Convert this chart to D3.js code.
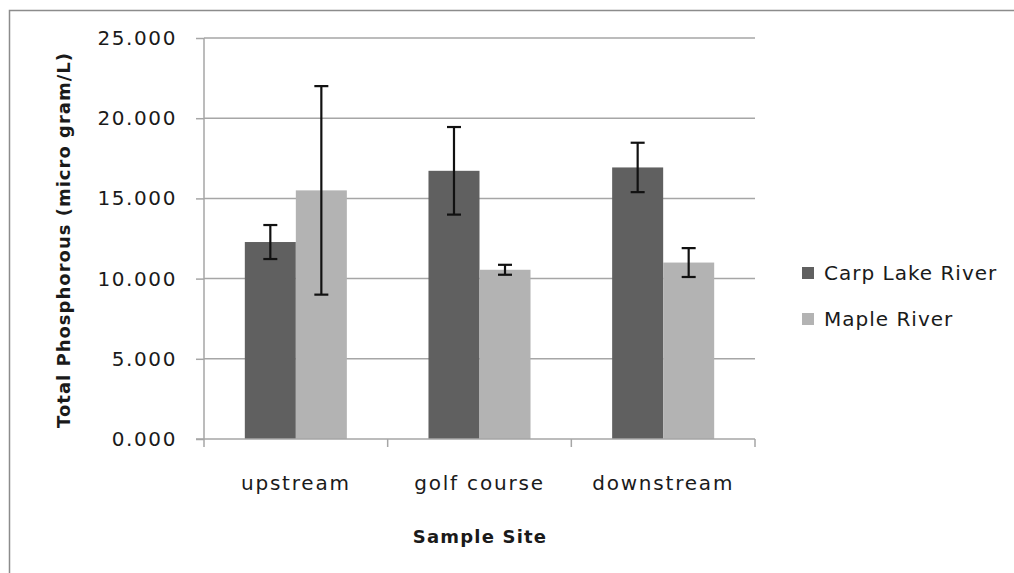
<!DOCTYPE html>
<html><head><meta charset="utf-8">
<script src="https://cdn.jsdelivr.net/npm/d3@7"></script>
<style>
html,body{margin:0;padding:0;background:#fff;}
svg{display:block;}
text{font-family:"DejaVu Sans",sans-serif;fill:#1a1a1a;}
</style></head>
<body>
<svg id="chart" width="1014" height="573"></svg>
<script>
const categories = ["upstream", "golf course", "downstream"];
const seriesNames = ["Carp Lake River", "Maple River"];
const carpValues = [12.28, 16.72, 16.93];
const carpErrors = [1.06, 2.73, 1.54];
const mapleValues = [15.50, 10.55, 11.0];
const mapleErrors = [6.5, 0.31, 0.9];
const yTicks = [0, 5, 10, 15, 20, 25];
const colors = ["#606060", "#b3b3b3"];

const svg = d3.select("#chart");
const plot = {left: 204, right: 755, top: 38, bottom: 439};

// outer frame
svg.append("path").attr("d", `M9.5,573 L9.5,10.5 L1014,10.5`)
  .attr("fill", "none").attr("stroke", "#8c8c8c").attr("stroke-width", 1.5);

const x0 = d3.scaleBand().domain(categories).range([plot.left, plot.right]).paddingInner(0).paddingOuter(0);
const x1 = d3.scaleBand().domain(seriesNames).range([0, x0.bandwidth()]).paddingInner(0).paddingOuter(0.8);
const y = d3.scaleLinear().domain([0, 25]).range([plot.bottom, plot.top]);

// gridlines
svg.append("g").selectAll("line").data(yTicks.filter(d => d > 0)).join("line")
  .attr("x1", plot.left).attr("x2", plot.right)
  .attr("y1", d => y(d)).attr("y2", d => y(d))
  .attr("stroke", "#a6a6a6").attr("stroke-width", 1.5);

// y axis
const yAxis = svg.append("g").attr("transform", `translate(${plot.left},0)`)
  .call(d3.axisLeft(y).tickValues(yTicks).tickFormat(d3.format(".3f")).tickSize(8).tickPadding(19));
yAxis.select(".domain").attr("stroke", "#a6a6a6").attr("stroke-width", 1.5).attr("d", `M0,${plot.top}V${plot.bottom}`);
yAxis.selectAll(".tick line").attr("stroke", "#a6a6a6").attr("stroke-width", 1.5);
yAxis.selectAll(".tick text").attr("font-size", 20).attr("letter-spacing", "1.6px")
  .attr("font-family", "DejaVu Sans").attr("fill", "#1a1a1a");

// bars
const data = categories.map((c, i) => ({cat: c, vals: [
  {s: seriesNames[0], v: carpValues[i], e: carpErrors[i], k: 0},
  {s: seriesNames[1], v: mapleValues[i], e: mapleErrors[i], k: 1}
]}));
const groups = svg.append("g").selectAll("g").data(data).join("g")
  .attr("transform", d => `translate(${x0(d.cat)},0)`);
groups.selectAll("rect").data(d => d.vals).join("rect")
  .attr("x", d => x1(d.s)).attr("width", x1.bandwidth())
  .attr("y", d => y(d.v)).attr("height", d => y(0) - y(d.v))
  .attr("fill", d => colors[d.k]);

// x axis
const xAxis = svg.append("g").attr("transform", `translate(0,${plot.bottom})`)
  .call(d3.axisBottom(x0).tickSize(0).tickPadding(37));
xAxis.select(".domain").attr("stroke", "#a6a6a6").attr("stroke-width", 1.5).attr("d", `M${plot.left - 8},0H${plot.right}`);
xAxis.selectAll(".tick text").attr("font-size", 20).attr("letter-spacing", "1.8px")
  .attr("font-family", "DejaVu Sans").attr("fill", "#1a1a1a");
// category boundary ticks
svg.append("g").selectAll("line").data(categories.concat(["__end"])).join("line")
  .attr("x1", (d, i) => i < categories.length ? x0(d) : plot.right)
  .attr("x2", (d, i) => i < categories.length ? x0(d) : plot.right)
  .attr("y1", plot.bottom).attr("y2", plot.bottom + 8)
  .attr("stroke", "#a6a6a6").attr("stroke-width", 1.5);

// error bars
const eb = groups.selectAll("g.err").data(d => d.vals).join("g").attr("class", "err");
eb.append("line")
  .attr("x1", d => x1(d.s) + x1.bandwidth() / 2).attr("x2", d => x1(d.s) + x1.bandwidth() / 2)
  .attr("y1", d => y(d.v + d.e)).attr("y2", d => y(d.v - d.e))
  .attr("stroke", "#111").attr("stroke-width", 2.2);
[1, -1].forEach(sg => {
  eb.append("line")
    .attr("x1", d => x1(d.s) + x1.bandwidth() / 2 - 7).attr("x2", d => x1(d.s) + x1.bandwidth() / 2 + 7)
    .attr("y1", d => y(d.v + sg * d.e)).attr("y2", d => y(d.v + sg * d.e))
    .attr("stroke", "#111").attr("stroke-width", 2.2);
});

// axis titles
svg.append("text").attr("transform", `translate(70,240) rotate(-90)`)
  .attr("text-anchor", "middle").attr("font-size", 18).attr("font-weight", "bold").attr("letter-spacing", "1px")
  .text("Total Phosphorous  (micro gram/L)");
svg.append("text").attr("x", 480).attr("y", 543)
  .attr("text-anchor", "middle").attr("font-size", 18).attr("font-weight", "bold").attr("letter-spacing", "1.2px")
  .text("Sample Site");

// legend
const leg = svg.append("g").selectAll("g").data(seriesNames).join("g")
  .attr("transform", (d, i) => `translate(802,${273 + i * 46})`);
leg.append("rect").attr("x", 0).attr("y", -6).attr("width", 12).attr("height", 12)
  .attr("fill", (d, i) => colors[i]);
leg.append("text").attr("x", 22).attr("y", 0).attr("dy", "0.35em")
  .attr("font-size", 20).attr("letter-spacing", "1px").text(d => d);
</script>
</body></html>
